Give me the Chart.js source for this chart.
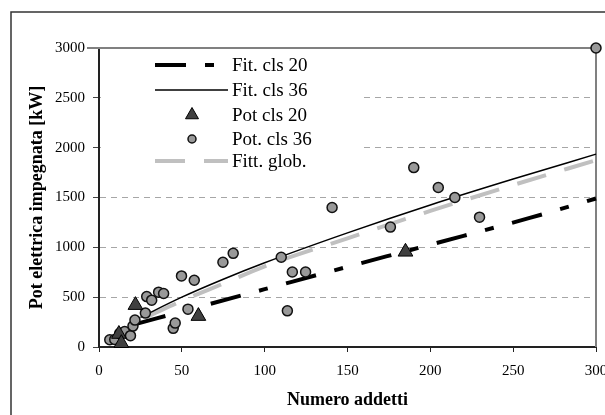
<!DOCTYPE html>
<html>
<head>
<meta charset="utf-8">
<script src="https://cdn.jsdelivr.net/npm/chart.js@4/dist/chart.umd.min.js"></script>
<style>
  html, body { margin: 0; padding: 0; overflow: hidden; background: #fff; }
  canvas { display: block; }
</style>
</head>
<body>
<canvas id="grafico" width="640" height="440"></canvas>
<script>
// punti misurati
const cls20X = [12, 13.5, 22, 60, 185];
const cls20Y = [130, 38, 420, 310, 955];
const cls36X = [6.5, 9.5, 12.5, 15.5, 19, 20.5, 21.7, 28, 28.8, 31.8, 36, 39, 44.8, 46, 49.8, 53.7, 57.5, 74.8, 81, 110, 113.7, 116.7, 124.7, 140.7, 175.9, 190, 204.8, 214.8, 229.7, 300];
const cls36Y = [73, 75, 137, 156, 114, 210, 270, 340, 506, 470, 550, 537, 187, 240, 713, 380, 670, 850, 940, 900, 363, 753, 753, 1400, 1203, 1800, 1600, 1500, 1303, 3000];

// curve di fitting
const fit20X = [22, 60, 100, 150, 185, 220, 260, 300];
const fit20Y = [230, 400, 580, 805, 960, 1115, 1295, 1490];
const fit36X = [25, 50, 75, 100, 150, 200, 250, 300];
const fit36Y = [297, 500, 680, 845, 1145, 1425, 1685, 1935];
const globX = [30, 50, 75, 100, 150, 200, 250, 300];
const globY = [310, 463, 636, 810, 1090, 1365, 1625, 1875];

const xTicks = [0, 50, 100, 150, 200, 250, 300];
const yTicks = [0, 500, 1000, 1500, 2000, 2500, 3000];

const pts = (xs, ys) => xs.map((x, i) => ({ x: x, y: ys[i] }));
const serif = "'Liberation Serif', 'Times New Roman', serif";

// cornice esterna + bordo grigio sopra/destra
const cornice = {
  id: 'cornice',
  beforeDraw(chart) {
    const ctx = chart.ctx;
    ctx.save();
    ctx.fillStyle = '#fff';
    ctx.fillRect(0, 0, chart.width, chart.height);
    ctx.strokeStyle = '#333';
    ctx.lineWidth = 1.5;
    ctx.strokeRect(11, 12, 700, 500);
    ctx.restore();
  },
  beforeDatasetsDraw(chart) {
    const { ctx, chartArea: a } = chart;
    ctx.save();
    ctx.strokeStyle = '#808080';
    ctx.lineWidth = 2;
    ctx.beginPath();
    ctx.moveTo(a.left - 12, a.top);
    ctx.lineTo(a.right, a.top);
    ctx.lineTo(a.right, a.bottom);
    ctx.stroke();
    ctx.restore();
  }
};

// legenda dentro l'area del grafico, con fondo bianco
const legenda = {
  id: 'legenda',
  afterDatasetsDraw(chart) {
    const ctx = chart.ctx;
    ctx.save();
    ctx.fillStyle = '#fff';
    ctx.fillRect(101, 50, 258, 122);
    const rowY = [65, 90, 115, 139, 161];
    chart.data.datasets.forEach((d, i) => {
      const y = rowY[i];
      if (d.showLine) {
        ctx.strokeStyle = d.borderColor;
        ctx.lineWidth = d.borderWidth;
        ctx.setLineDash(d.borderDash || []);
        ctx.beginPath();
        ctx.moveTo(155, y);
        ctx.lineTo(228, y);
        ctx.stroke();
        ctx.setLineDash([]);
      } else if (d.pointStyle === 'triangle') {
        const r = 7.5;
        ctx.fillStyle = d.backgroundColor;
        ctx.strokeStyle = d.borderColor;
        ctx.lineWidth = 1;
        ctx.beginPath();
        ctx.moveTo(192, y - r);
        ctx.lineTo(192 + r * 0.866, y + r / 2);
        ctx.lineTo(192 - r * 0.866, y + r / 2);
        ctx.closePath();
        ctx.fill();
        ctx.stroke();
      } else {
        ctx.fillStyle = d.backgroundColor;
        ctx.strokeStyle = d.borderColor;
        ctx.lineWidth = 1.5;
        ctx.beginPath();
        ctx.arc(192, y, 4, 0, Math.PI * 2);
        ctx.fill();
        ctx.stroke();
      }
      ctx.fillStyle = '#000';
      ctx.font = '19px ' + serif;
      ctx.textBaseline = 'middle';
      ctx.fillText(d.label, 232, y + 1);
    });
    ctx.restore();
  }
};

new Chart(document.getElementById('grafico'), {
  type: 'scatter',
  data: {
    datasets: [
      {
        label: 'Fit. cls 20', data: pts(fit20X, fit20Y), showLine: true,
        borderColor: '#000', borderWidth: 4, borderDash: [31, 19, 9, 19],
        pointRadius: 0, cubicInterpolationMode: 'monotone', order: 2, clip: false
      },
      {
        label: 'Fit. cls 36', data: pts(fit36X, fit36Y), showLine: true,
        borderColor: '#000', borderWidth: 1.5,
        pointRadius: 0, cubicInterpolationMode: 'monotone', order: 1, clip: false
      },
      {
        label: 'Pot cls 20', data: pts(cls20X, cls20Y), pointStyle: 'triangle',
        pointRadius: 8.5, backgroundColor: '#404040', borderColor: '#000', borderWidth: 1, order: 0, clip: false
      },
      {
        label: 'Pot. cls 36', data: pts(cls36X, cls36Y), pointStyle: 'circle',
        pointRadius: 5, backgroundColor: '#999999', borderColor: '#111', borderWidth: 1.5, order: 0, clip: false
      },
      {
        label: 'Fitt. glob.', data: pts(globX, globY), showLine: true,
        borderColor: '#c0c0c0', borderWidth: 4, borderDash: [30, 19],
        pointRadius: 0, cubicInterpolationMode: 'monotone', order: 3, clip: false
      }
    ]
  },
  options: {
    responsive: false,
    animation: false,
    devicePixelRatio: 1,
    layout: { padding: { left: 27, top: 48, right: 44, bottom: 29.2 } },
    plugins: { legend: { display: false }, tooltip: { enabled: false } },
    scales: {
      x: {
        type: 'linear', min: 0, max: 300,
        afterBuildTicks: s => { s.ticks = xTicks.map(v => ({ value: v })); },
        afterFit: s => { s.height = 63.8; },
        grid: { drawOnChartArea: false, tickLength: 5, tickColor: '#222', tickWidth: 1 },
        border: { color: '#222', width: 2 },
        ticks: { color: '#000', font: { family: serif, size: 15 }, padding: 10, maxRotation: 0,
                 callback: v => String(v) },
        title: { display: true, text: 'Numero addetti', color: '#000', padding: 0,
                 font: { family: serif, size: 18, weight: 'bold' } }
      },
      y: {
        min: 0, max: 3000,
        afterBuildTicks: s => { s.ticks = yTicks.map(v => ({ value: v })); },
        afterFit: s => { s.width = 72; },
        grid: {
          color: c => (c.tick && (c.tick.value === 0 || c.tick.value === 3000)) ? 'rgba(0,0,0,0)' : '#a6a6a6',
          lineWidth: 1, tickLength: 6, tickColor: '#444', tickWidth: 1
        },
        border: { color: '#222', width: 2, dash: [6, 5] },
        ticks: { color: '#000', font: { family: serif, size: 15 }, padding: 8,
                 callback: v => String(v) },
        title: { display: true, text: 'Pot elettrica impegnata [kW]', color: '#000', padding: 0,
                 font: { family: serif, size: 18, weight: 'bold' } }
      }
    }
  },
  plugins: [cornice, legenda]
});
</script>
</body>
</html>
